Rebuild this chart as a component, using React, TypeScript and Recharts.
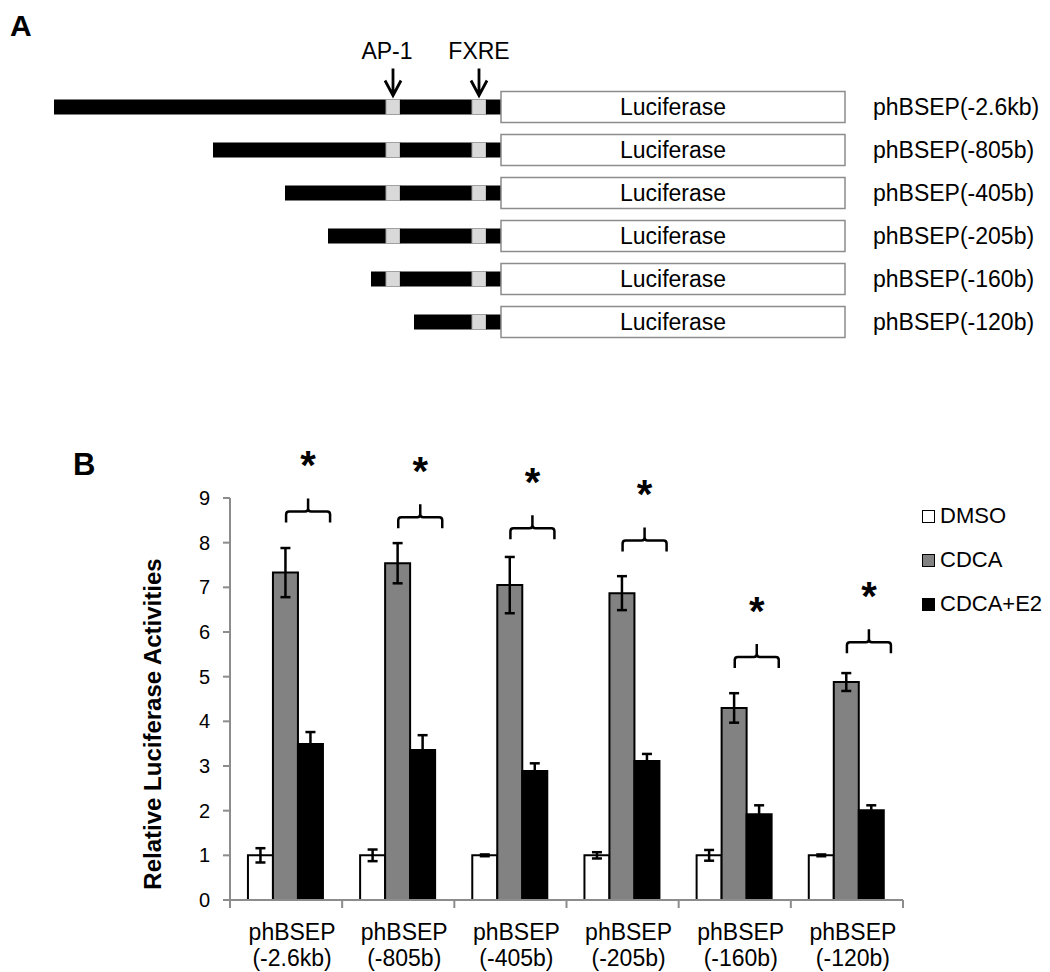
import React from 'react';
import { BarChart, Bar, XAxis, YAxis, LabelList, ComposedChart, Line, ErrorBar } from 'recharts';

const constructs = [
  'phBSEP(-2.6kb)',
  'phBSEP(-805b)',
  'phBSEP(-405b)',
  'phBSEP(-205b)',
  'phBSEP(-160b)',
  'phBSEP(-120b)',
];

// Panel A: schematic units, 0 = left end of the longest promoter
const promoterStart = [0, 159, 231, 274, 317, 360];
const ap1Site = [332, 346];
const fxreSite = [418, 432];
const promoterEnd = 447;
const luciferaseEnd = 791;
const siteNames = ['AP-1', 'FXRE'];

// Panel B: relative luciferase activities (mean and error)
const seriesNames = ['DMSO', 'CDCA', 'CDCA+E2'];
const dmso = [1, 1, 1, 1, 1, 1];
const dmsoErr = [0.16, 0.13, 0.02, 0.07, 0.12, 0.02];
const cdca = [7.33, 7.54, 7.05, 6.87, 4.3, 4.88];
const cdcaErr = [0.55, 0.45, 0.63, 0.38, 0.33, 0.2];
const cdcaE2 = [3.49, 3.36, 2.89, 3.11, 1.92, 2.01];
const cdcaE2Err = [0.27, 0.33, 0.17, 0.16, 0.2, 0.11];
const bracketLevel = [8.7, 8.57, 8.32, 8.05, 5.44, 5.77];
const yTicks = [0, 1, 2, 3, 4, 5, 6, 7, 8, 9];

const FONT = '"Liberation Sans", Arial, Helvetica, sans-serif';
const AXIS_GRAY = '#8c8c8c';
const CDCA_GRAY = '#828282';

const WIDTH = 1034;
const HEIGHT = 964;
const B_MARGIN = { top: 130, right: 139, bottom: 2, left: 162 };
const B_YAXIS_W = 60;
const B_PLOT_W = WIDTH - B_MARGIN.left - B_MARGIN.right - B_YAXIS_W;
const B_BAND = B_PLOT_W / constructs.length;

const schematicData = constructs.map((name, i) => {
  const start = promoterStart[i];
  const hasAp1 = start < ap1Site[0];
  return {
    name,
    gap: start,
    black1: hasAp1 ? ap1Site[0] - start : 0,
    ap1: hasAp1 ? ap1Site[1] - ap1Site[0] : 0,
    black2: fxreSite[0] - (hasAp1 ? ap1Site[1] : start),
    fxre: fxreSite[1] - fxreSite[0],
    black3: promoterEnd - fxreSite[1],
    luc: luciferaseEnd - promoterEnd,
    lucName: 'Luciferase',
  };
});

const barData = constructs.map((name, i) => ({
  name,
  dmso: dmso[i],
  dmsoErr: dmsoErr[i],
  cdca: cdca[i],
  cdcaErr: cdcaErr[i],
  cdcaE2: cdcaE2[i],
  cdcaE2Err: cdcaE2Err[i],
  bracket: bracketLevel[i],
}));

const siteShape = (label: string, shift: number) => (props: any) => {
  const { x, y, width, height, index } = props;
  if (!width || width <= 0) return <g />;
  const cx = x + width / 2;
  return (
    <g>
      <rect x={x} y={y} width={width} height={height} fill="#d9d9d9" stroke="#a0a0a0" strokeWidth={1} />
      {index === 0 && (
        <g>
          <text x={cx + shift} y={y - 41} textAnchor="middle" fontSize={23} fill="#000">
            {label}
          </text>
          <path
            d={`M${cx},${y - 31} V${y - 4} M${cx - 8},${y - 19} L${cx},${y - 4} L${cx + 8},${y - 19}`}
            stroke="#000"
            strokeWidth={2.8}
            fill="none"
          />
        </g>
      )}
    </g>
  );
};

const LucShape = (props: any) => {
  const { x, y, width, height } = props;
  return <rect x={x} y={y - 8} width={width} height={height + 16} fill="#fff" stroke={AXIS_GRAY} strokeWidth={1.5} />;
};

const CategoryTick = (props: any) => {
  const { x, y, payload, index } = props;
  const name = String(payload.value);
  const cut = name.indexOf('(');
  const half = B_BAND / 2;
  return (
    <g>
      <line x1={x - half} y1={y} x2={x - half} y2={y + 8} stroke={AXIS_GRAY} strokeWidth={2} />
      {index === constructs.length - 1 && (
        <line x1={x + half} y1={y} x2={x + half} y2={y + 8} stroke={AXIS_GRAY} strokeWidth={2} />
      )}
      <text x={x + 6} y={y + 39.5} textAnchor="middle" fontSize={23} fill="#000">
        {name.slice(0, cut)}
      </text>
      <text x={x + 6} y={y + 66} textAnchor="middle" fontSize={23} fill="#000">
        {name.slice(cut)}
      </text>
    </g>
  );
};

// curly bracket + asterisk over the CDCA / CDCA+E2 pair
const renderBracket = (props: any) => {
  const { cx, cy, index } = props;
  if (cx == null || cy == null) return <g key={`br-${index}`} />;
  const x0 = cx;
  const x1 = cx + 44;
  const xm = cx + 22;
  const d =
    `M${x0},${cy + 11} V${cy + 3} Q${x0},${cy} ${x0 + 3},${cy} H${xm - 3} Q${xm},${cy} ${xm},${cy - 3} V${cy - 13} ` +
    `M${xm},${cy - 3} Q${xm},${cy} ${xm + 3},${cy} H${x1 - 3} Q${x1},${cy} ${x1},${cy + 3} V${cy + 11}`;
  return (
    <g key={`br-${index}`}>
      <path d={d} fill="none" stroke="#000" strokeWidth={2.5} />
      <text x={xm} y={cy - 32} textAnchor="middle" fontSize={40} fontWeight="bold" fill="#000">
        *
      </text>
    </g>
  );
};

const YLabel = () => (
  <text
    x={B_MARGIN.left - 9}
    y={B_MARGIN.top + 226}
    transform={`rotate(-90, ${B_MARGIN.left - 9}, ${B_MARGIN.top + 226})`}
    textAnchor="middle"
    fontSize={24}
    fontWeight="bold"
    fill="#000"
  >
    Relative Luciferase Activities
  </text>
);

const legendFills = ['#fff', CDCA_GRAY, '#000'];

export default function App() {
  return (
    <div style={{ position: 'relative', width: WIDTH, height: HEIGHT, fontFamily: FONT, background: '#fff' }}>
      {/* Panel A: promoter constructs */}
      <div style={{ position: 'absolute', left: 0, top: 0 }}>
        <BarChart
          layout="vertical"
          width={WIDTH}
          height={360}
          data={schematicData}
          margin={{ top: 77.5, right: 0, bottom: 24.5, left: 46 }}
          barSize={15}
        >
          <XAxis type="number" domain={[0, luciferaseEnd]} hide />
          <YAxis
            type="category"
            dataKey="name"
            orientation="right"
            width={197}
            axisLine={false}
            tickLine={false}
            tickSize={0}
            tickMargin={28}
            interval={0}
            tick={{ fontSize: 23, fill: '#000' }}
          />
          <Bar dataKey="gap" stackId="s" fill="none" isAnimationActive={false} />
          <Bar dataKey="black1" stackId="s" fill="#000" isAnimationActive={false} />
          <Bar dataKey="ap1" stackId="s" shape={siteShape(siteNames[0], -6)} isAnimationActive={false} />
          <Bar dataKey="black2" stackId="s" fill="#000" isAnimationActive={false} />
          <Bar dataKey="fxre" stackId="s" shape={siteShape(siteNames[1], 0)} isAnimationActive={false} />
          <Bar dataKey="black3" stackId="s" fill="#000" isAnimationActive={false} />
          <Bar dataKey="luc" stackId="s" shape={LucShape} isAnimationActive={false}>
            <LabelList dataKey="lucName" position="center" fill="#000" fontSize={23} />
          </Bar>
        </BarChart>
      </div>

      {/* Panel B: luciferase activities */}
      <div style={{ position: 'absolute', left: 0, top: 360 }}>
        <ComposedChart
          width={WIDTH}
          height={604}
          data={barData}
          margin={B_MARGIN}
          barGap={0}
          barCategoryGap="16%"
        >
          <XAxis
            dataKey="name"
            height={70}
            interval={0}
            tickLine={false}
            tickSize={0}
            tickMargin={0}
            axisLine={{ stroke: AXIS_GRAY, strokeWidth: 2 }}
            tick={<CategoryTick />}
          />
          <YAxis
            domain={[0, 9]}
            ticks={yTicks}
            interval={0}
            width={B_YAXIS_W}
            tickSize={7}
            tickMargin={13}
            axisLine={{ stroke: AXIS_GRAY, strokeWidth: 2 }}
            tickLine={{ stroke: AXIS_GRAY, strokeWidth: 2 }}
            tick={{ fontSize: 20, fill: '#000' }}
            label={YLabel}
          />
          <Bar dataKey="dmso" name={seriesNames[0]} fill="#fff" stroke="#000" strokeWidth={2} isAnimationActive={false}>
            <ErrorBar dataKey="dmsoErr" width={5} strokeWidth={2.5} stroke="#000" direction="y" />
          </Bar>
          <Bar dataKey="cdca" name={seriesNames[1]} fill={CDCA_GRAY} stroke="#000" strokeWidth={2} isAnimationActive={false}>
            <ErrorBar dataKey="cdcaErr" width={5} strokeWidth={2.5} stroke="#000" direction="y" />
          </Bar>
          <Bar dataKey="cdcaE2" name={seriesNames[2]} fill="#000" stroke="#000" strokeWidth={2} isAnimationActive={false}>
            <ErrorBar dataKey="cdcaE2Err" width={5} strokeWidth={2.5} stroke="#000" direction="y" />
          </Bar>
          <Line
            dataKey="bracket"
            stroke="none"
            dot={renderBracket}
            activeDot={false}
            legendType="none"
            isAnimationActive={false}
          />
        </ComposedChart>
      </div>

      {/* legend */}
      <div style={{ position: 'absolute', left: 914, top: 486 }}>
        {seriesNames.map((s, i) => (
          <div key={s} style={{ display: 'flex', alignItems: 'center', height: 44 }}>
            <div
              style={{
                width: 13,
                height: 13,
                boxSizing: 'border-box',
                border: '1.5px solid #000',
                background: legendFills[i],
                marginRight: 5,
              }}
            />
            <span style={{ fontSize: 22, color: '#000', whiteSpace: 'nowrap' }}>{s}</span>
          </div>
        ))}
      </div>

      {/* panel letters */}
      <svg width={WIDTH} height={HEIGHT} style={{ position: 'absolute', left: 0, top: 0, pointerEvents: 'none' }}>
        <text x={2} y={28} fontSize={30} fontWeight="bold" fill="#000">
          A
        </text>
        <text x={65} y={467} fontSize={31} fontWeight="bold" fill="#000">
          B
        </text>
      </svg>
    </div>
  );
}
